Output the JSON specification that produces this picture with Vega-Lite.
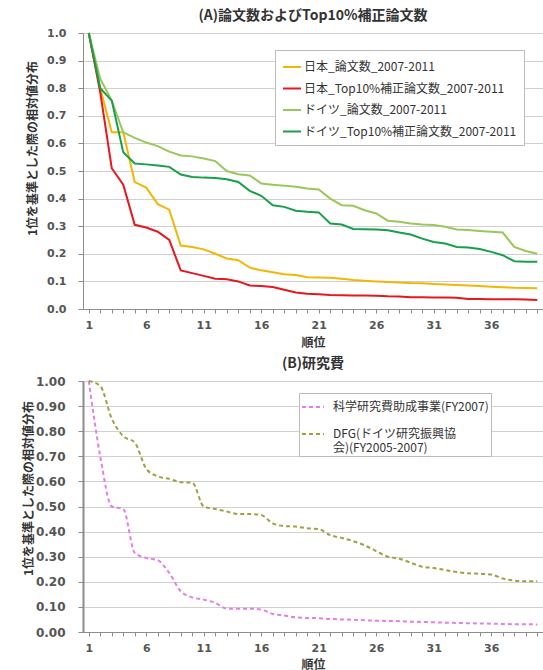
{
"$schema": "https://vega.github.io/schema/vega-lite/v6.json",
"padding": {"left": 21, "top": 9, "right": 2, "bottom": 0},
"spacing": 9,
"config": {
 "view": {"stroke": null},
 "font": "Noto Sans CJK JP",
 "axis": {"labelFont": "DejaVu Sans", "labelFontWeight": "bold", "labelColor": "#555555", "labelFontSize": 11, "titleFont": "Noto Sans CJK JP", "titleFontWeight": "bold", "titleColor": "#333333", "titleFontSize": 12, "gridColor": "#d0d0d0", "domainColor": "#8c8c8c", "tickColor": "#8c8c8c"},
 "title": {"font": "Noto Sans CJK JP", "fontSize": 14, "fontWeight": "bold", "color": "#333333", "offset": 4, "anchor": "middle"},
 "legend": {"labelFont": "Noto Sans CJK JP", "labelColor": "#333333", "strokeColor": "#bbbbbb", "fillColor": "white", "symbolType": "stroke", "symbolStrokeWidth": 2, "labelLimit": 400}
},
"datasets": {
"a": [
{"series":"日本_論文数_2007-2011","rank":1,"value":1.0},{"series":"日本_論文数_2007-2011","rank":2,"value":0.80},{"series":"日本_論文数_2007-2011","rank":3,"value":0.64},{"series":"日本_論文数_2007-2011","rank":4,"value":0.64},{"series":"日本_論文数_2007-2011","rank":5,"value":0.46},{"series":"日本_論文数_2007-2011","rank":6,"value":0.44},{"series":"日本_論文数_2007-2011","rank":7,"value":0.38},{"series":"日本_論文数_2007-2011","rank":8,"value":0.36},{"series":"日本_論文数_2007-2011","rank":9,"value":0.23},{"series":"日本_論文数_2007-2011","rank":10,"value":0.225},{"series":"日本_論文数_2007-2011","rank":11,"value":0.216},{"series":"日本_論文数_2007-2011","rank":12,"value":0.20},{"series":"日本_論文数_2007-2011","rank":13,"value":0.183},{"series":"日本_論文数_2007-2011","rank":14,"value":0.177},{"series":"日本_論文数_2007-2011","rank":15,"value":0.15},{"series":"日本_論文数_2007-2011","rank":16,"value":0.14},{"series":"日本_論文数_2007-2011","rank":17,"value":0.133},{"series":"日本_論文数_2007-2011","rank":18,"value":0.126},{"series":"日本_論文数_2007-2011","rank":19,"value":0.123},{"series":"日本_論文数_2007-2011","rank":20,"value":0.115},{"series":"日本_論文数_2007-2011","rank":21,"value":0.114},{"series":"日本_論文数_2007-2011","rank":22,"value":0.113},{"series":"日本_論文数_2007-2011","rank":23,"value":0.11},{"series":"日本_論文数_2007-2011","rank":24,"value":0.105},{"series":"日本_論文数_2007-2011","rank":25,"value":0.102},{"series":"日本_論文数_2007-2011","rank":26,"value":0.100},{"series":"日本_論文数_2007-2011","rank":27,"value":0.098},{"series":"日本_論文数_2007-2011","rank":28,"value":0.096},{"series":"日本_論文数_2007-2011","rank":29,"value":0.094},{"series":"日本_論文数_2007-2011","rank":30,"value":0.093},{"series":"日本_論文数_2007-2011","rank":31,"value":0.091},{"series":"日本_論文数_2007-2011","rank":32,"value":0.089},{"series":"日本_論文数_2007-2011","rank":33,"value":0.087},{"series":"日本_論文数_2007-2011","rank":34,"value":0.085},{"series":"日本_論文数_2007-2011","rank":35,"value":0.083},{"series":"日本_論文数_2007-2011","rank":36,"value":0.081},{"series":"日本_論文数_2007-2011","rank":37,"value":0.079},{"series":"日本_論文数_2007-2011","rank":38,"value":0.077},{"series":"日本_論文数_2007-2011","rank":39,"value":0.076},{"series":"日本_論文数_2007-2011","rank":40,"value":0.075},
{"series":"日本_Top10%補正論文数_2007-2011","rank":1,"value":1.0},{"series":"日本_Top10%補正論文数_2007-2011","rank":2,"value":0.785},{"series":"日本_Top10%補正論文数_2007-2011","rank":3,"value":0.51},{"series":"日本_Top10%補正論文数_2007-2011","rank":4,"value":0.45},{"series":"日本_Top10%補正論文数_2007-2011","rank":5,"value":0.305},{"series":"日本_Top10%補正論文数_2007-2011","rank":6,"value":0.295},{"series":"日本_Top10%補正論文数_2007-2011","rank":7,"value":0.28},{"series":"日本_Top10%補正論文数_2007-2011","rank":8,"value":0.25},{"series":"日本_Top10%補正論文数_2007-2011","rank":9,"value":0.14},{"series":"日本_Top10%補正論文数_2007-2011","rank":10,"value":0.13},{"series":"日本_Top10%補正論文数_2007-2011","rank":11,"value":0.12},{"series":"日本_Top10%補正論文数_2007-2011","rank":12,"value":0.11},{"series":"日本_Top10%補正論文数_2007-2011","rank":13,"value":0.108},{"series":"日本_Top10%補正論文数_2007-2011","rank":14,"value":0.10},{"series":"日本_Top10%補正論文数_2007-2011","rank":15,"value":0.085},{"series":"日本_Top10%補正論文数_2007-2011","rank":16,"value":0.083},{"series":"日本_Top10%補正論文数_2007-2011","rank":17,"value":0.08},{"series":"日本_Top10%補正論文数_2007-2011","rank":18,"value":0.07},{"series":"日本_Top10%補正論文数_2007-2011","rank":19,"value":0.06},{"series":"日本_Top10%補正論文数_2007-2011","rank":20,"value":0.055},{"series":"日本_Top10%補正論文数_2007-2011","rank":21,"value":0.053},{"series":"日本_Top10%補正論文数_2007-2011","rank":22,"value":0.051},{"series":"日本_Top10%補正論文数_2007-2011","rank":23,"value":0.05},{"series":"日本_Top10%補正論文数_2007-2011","rank":24,"value":0.049},{"series":"日本_Top10%補正論文数_2007-2011","rank":25,"value":0.049},{"series":"日本_Top10%補正論文数_2007-2011","rank":26,"value":0.048},{"series":"日本_Top10%補正論文数_2007-2011","rank":27,"value":0.046},{"series":"日本_Top10%補正論文数_2007-2011","rank":28,"value":0.045},{"series":"日本_Top10%補正論文数_2007-2011","rank":29,"value":0.043},{"series":"日本_Top10%補正論文数_2007-2011","rank":30,"value":0.043},{"series":"日本_Top10%補正論文数_2007-2011","rank":31,"value":0.042},{"series":"日本_Top10%補正論文数_2007-2011","rank":32,"value":0.042},{"series":"日本_Top10%補正論文数_2007-2011","rank":33,"value":0.041},{"series":"日本_Top10%補正論文数_2007-2011","rank":34,"value":0.036},{"series":"日本_Top10%補正論文数_2007-2011","rank":35,"value":0.036},{"series":"日本_Top10%補正論文数_2007-2011","rank":36,"value":0.035},{"series":"日本_Top10%補正論文数_2007-2011","rank":37,"value":0.035},{"series":"日本_Top10%補正論文数_2007-2011","rank":38,"value":0.035},{"series":"日本_Top10%補正論文数_2007-2011","rank":39,"value":0.034},{"series":"日本_Top10%補正論文数_2007-2011","rank":40,"value":0.033},
{"series":"ドイツ_論文数_2007-2011","rank":1,"value":1.0},{"series":"ドイツ_論文数_2007-2011","rank":2,"value":0.834},{"series":"ドイツ_論文数_2007-2011","rank":3,"value":0.755},{"series":"ドイツ_論文数_2007-2011","rank":4,"value":0.64},{"series":"ドイツ_論文数_2007-2011","rank":5,"value":0.62},{"series":"ドイツ_論文数_2007-2011","rank":6,"value":0.603},{"series":"ドイツ_論文数_2007-2011","rank":7,"value":0.59},{"series":"ドイツ_論文数_2007-2011","rank":8,"value":0.57},{"series":"ドイツ_論文数_2007-2011","rank":9,"value":0.556},{"series":"ドイツ_論文数_2007-2011","rank":10,"value":0.553},{"series":"ドイツ_論文数_2007-2011","rank":11,"value":0.545},{"series":"ドイツ_論文数_2007-2011","rank":12,"value":0.536},{"series":"ドイツ_論文数_2007-2011","rank":13,"value":0.50},{"series":"ドイツ_論文数_2007-2011","rank":14,"value":0.488},{"series":"ドイツ_論文数_2007-2011","rank":15,"value":0.484},{"series":"ドイツ_論文数_2007-2011","rank":16,"value":0.455},{"series":"ドイツ_論文数_2007-2011","rank":17,"value":0.45},{"series":"ドイツ_論文数_2007-2011","rank":18,"value":0.447},{"series":"ドイツ_論文数_2007-2011","rank":19,"value":0.443},{"series":"ドイツ_論文数_2007-2011","rank":20,"value":0.437},{"series":"ドイツ_論文数_2007-2011","rank":21,"value":0.433},{"series":"ドイツ_論文数_2007-2011","rank":22,"value":0.40},{"series":"ドイツ_論文数_2007-2011","rank":23,"value":0.376},{"series":"ドイツ_論文数_2007-2011","rank":24,"value":0.374},{"series":"ドイツ_論文数_2007-2011","rank":25,"value":0.358},{"series":"ドイツ_論文数_2007-2011","rank":26,"value":0.346},{"series":"ドイツ_論文数_2007-2011","rank":27,"value":0.32},{"series":"ドイツ_論文数_2007-2011","rank":28,"value":0.316},{"series":"ドイツ_論文数_2007-2011","rank":29,"value":0.31},{"series":"ドイツ_論文数_2007-2011","rank":30,"value":0.306},{"series":"ドイツ_論文数_2007-2011","rank":31,"value":0.304},{"series":"ドイツ_論文数_2007-2011","rank":32,"value":0.298},{"series":"ドイツ_論文数_2007-2011","rank":33,"value":0.288},{"series":"ドイツ_論文数_2007-2011","rank":34,"value":0.286},{"series":"ドイツ_論文数_2007-2011","rank":35,"value":0.283},{"series":"ドイツ_論文数_2007-2011","rank":36,"value":0.28},{"series":"ドイツ_論文数_2007-2011","rank":37,"value":0.277},{"series":"ドイツ_論文数_2007-2011","rank":38,"value":0.225},{"series":"ドイツ_論文数_2007-2011","rank":39,"value":0.21},{"series":"ドイツ_論文数_2007-2011","rank":40,"value":0.20},
{"series":"ドイツ_Top10%補正論文数_2007-2011","rank":1,"value":1.0},{"series":"ドイツ_Top10%補正論文数_2007-2011","rank":2,"value":0.80},{"series":"ドイツ_Top10%補正論文数_2007-2011","rank":3,"value":0.755},{"series":"ドイツ_Top10%補正論文数_2007-2011","rank":4,"value":0.568},{"series":"ドイツ_Top10%補正論文数_2007-2011","rank":5,"value":0.527},{"series":"ドイツ_Top10%補正論文数_2007-2011","rank":6,"value":0.524},{"series":"ドイツ_Top10%補正論文数_2007-2011","rank":7,"value":0.52},{"series":"ドイツ_Top10%補正論文数_2007-2011","rank":8,"value":0.515},{"series":"ドイツ_Top10%補正論文数_2007-2011","rank":9,"value":0.487},{"series":"ドイツ_Top10%補正論文数_2007-2011","rank":10,"value":0.478},{"series":"ドイツ_Top10%補正論文数_2007-2011","rank":11,"value":0.476},{"series":"ドイツ_Top10%補正論文数_2007-2011","rank":12,"value":0.475},{"series":"ドイツ_Top10%補正論文数_2007-2011","rank":13,"value":0.47},{"series":"ドイツ_Top10%補正論文数_2007-2011","rank":14,"value":0.46},{"series":"ドイツ_Top10%補正論文数_2007-2011","rank":15,"value":0.428},{"series":"ドイツ_Top10%補正論文数_2007-2011","rank":16,"value":0.41},{"series":"ドイツ_Top10%補正論文数_2007-2011","rank":17,"value":0.376},{"series":"ドイツ_Top10%補正論文数_2007-2011","rank":18,"value":0.37},{"series":"ドイツ_Top10%補正論文数_2007-2011","rank":19,"value":0.356},{"series":"ドイツ_Top10%補正論文数_2007-2011","rank":20,"value":0.352},{"series":"ドイツ_Top10%補正論文数_2007-2011","rank":21,"value":0.35},{"series":"ドイツ_Top10%補正論文数_2007-2011","rank":22,"value":0.31},{"series":"ドイツ_Top10%補正論文数_2007-2011","rank":23,"value":0.306},{"series":"ドイツ_Top10%補正論文数_2007-2011","rank":24,"value":0.29},{"series":"ドイツ_Top10%補正論文数_2007-2011","rank":25,"value":0.289},{"series":"ドイツ_Top10%補正論文数_2007-2011","rank":26,"value":0.288},{"series":"ドイツ_Top10%補正論文数_2007-2011","rank":27,"value":0.285},{"series":"ドイツ_Top10%補正論文数_2007-2011","rank":28,"value":0.277},{"series":"ドイツ_Top10%補正論文数_2007-2011","rank":29,"value":0.27},{"series":"ドイツ_Top10%補正論文数_2007-2011","rank":30,"value":0.255},{"series":"ドイツ_Top10%補正論文数_2007-2011","rank":31,"value":0.243},{"series":"ドイツ_Top10%補正論文数_2007-2011","rank":32,"value":0.237},{"series":"ドイツ_Top10%補正論文数_2007-2011","rank":33,"value":0.225},{"series":"ドイツ_Top10%補正論文数_2007-2011","rank":34,"value":0.223},{"series":"ドイツ_Top10%補正論文数_2007-2011","rank":35,"value":0.217},{"series":"ドイツ_Top10%補正論文数_2007-2011","rank":36,"value":0.207},{"series":"ドイツ_Top10%補正論文数_2007-2011","rank":37,"value":0.195},{"series":"ドイツ_Top10%補正論文数_2007-2011","rank":38,"value":0.173},{"series":"ドイツ_Top10%補正論文数_2007-2011","rank":39,"value":0.171},{"series":"ドイツ_Top10%補正論文数_2007-2011","rank":40,"value":0.171}
],
"b": [
{"series":"科学研究費助成事業(FY2007)","rank":1,"value":1.0},{"series":"科学研究費助成事業(FY2007)","rank":2,"value":0.70},{"series":"科学研究費助成事業(FY2007)","rank":3,"value":0.50},{"series":"科学研究費助成事業(FY2007)","rank":4,"value":0.49},{"series":"科学研究費助成事業(FY2007)","rank":5,"value":0.315},{"series":"科学研究費助成事業(FY2007)","rank":6,"value":0.295},{"series":"科学研究費助成事業(FY2007)","rank":7,"value":0.286},{"series":"科学研究費助成事業(FY2007)","rank":8,"value":0.235},{"series":"科学研究費助成事業(FY2007)","rank":9,"value":0.162},{"series":"科学研究費助成事業(FY2007)","rank":10,"value":0.138},{"series":"科学研究費助成事業(FY2007)","rank":11,"value":0.129},{"series":"科学研究費助成事業(FY2007)","rank":12,"value":0.116},{"series":"科学研究費助成事業(FY2007)","rank":13,"value":0.093},{"series":"科学研究費助成事業(FY2007)","rank":14,"value":0.093},{"series":"科学研究費助成事業(FY2007)","rank":15,"value":0.093},{"series":"科学研究費助成事業(FY2007)","rank":16,"value":0.089},{"series":"科学研究費助成事業(FY2007)","rank":17,"value":0.072},{"series":"科学研究費助成事業(FY2007)","rank":18,"value":0.066},{"series":"科学研究費助成事業(FY2007)","rank":19,"value":0.058},{"series":"科学研究費助成事業(FY2007)","rank":20,"value":0.056},{"series":"科学研究費助成事業(FY2007)","rank":21,"value":0.055},{"series":"科学研究費助成事業(FY2007)","rank":22,"value":0.052},{"series":"科学研究費助成事業(FY2007)","rank":23,"value":0.05},{"series":"科学研究費助成事業(FY2007)","rank":24,"value":0.049},{"series":"科学研究費助成事業(FY2007)","rank":25,"value":0.047},{"series":"科学研究費助成事業(FY2007)","rank":26,"value":0.045},{"series":"科学研究費助成事業(FY2007)","rank":27,"value":0.044},{"series":"科学研究費助成事業(FY2007)","rank":28,"value":0.043},{"series":"科学研究費助成事業(FY2007)","rank":29,"value":0.041},{"series":"科学研究費助成事業(FY2007)","rank":30,"value":0.04},{"series":"科学研究費助成事業(FY2007)","rank":31,"value":0.039},{"series":"科学研究費助成事業(FY2007)","rank":32,"value":0.037},{"series":"科学研究費助成事業(FY2007)","rank":33,"value":0.036},{"series":"科学研究費助成事業(FY2007)","rank":34,"value":0.035},{"series":"科学研究費助成事業(FY2007)","rank":35,"value":0.034},{"series":"科学研究費助成事業(FY2007)","rank":36,"value":0.033},{"series":"科学研究費助成事業(FY2007)","rank":37,"value":0.032},{"series":"科学研究費助成事業(FY2007)","rank":38,"value":0.031},{"series":"科学研究費助成事業(FY2007)","rank":39,"value":0.031},{"series":"科学研究費助成事業(FY2007)","rank":40,"value":0.03},
{"series":"DFG(ドイツ研究振興協会)(FY2005-2007)","rank":1,"value":1.0},{"series":"DFG(ドイツ研究振興協会)(FY2005-2007)","rank":2,"value":0.98},{"series":"DFG(ドイツ研究振興協会)(FY2005-2007)","rank":3,"value":0.85},{"series":"DFG(ドイツ研究振興協会)(FY2005-2007)","rank":4,"value":0.78},{"series":"DFG(ドイツ研究振興協会)(FY2005-2007)","rank":5,"value":0.755},{"series":"DFG(ドイツ研究振興協会)(FY2005-2007)","rank":6,"value":0.65},{"series":"DFG(ドイツ研究振興協会)(FY2005-2007)","rank":7,"value":0.62},{"series":"DFG(ドイツ研究振興協会)(FY2005-2007)","rank":8,"value":0.61},{"series":"DFG(ドイツ研究振興協会)(FY2005-2007)","rank":9,"value":0.597},{"series":"DFG(ドイツ研究振興協会)(FY2005-2007)","rank":10,"value":0.595},{"series":"DFG(ドイツ研究振興協会)(FY2005-2007)","rank":11,"value":0.50},{"series":"DFG(ドイツ研究振興協会)(FY2005-2007)","rank":12,"value":0.49},{"series":"DFG(ドイツ研究振興協会)(FY2005-2007)","rank":13,"value":0.48},{"series":"DFG(ドイツ研究振興協会)(FY2005-2007)","rank":14,"value":0.47},{"series":"DFG(ドイツ研究振興協会)(FY2005-2007)","rank":15,"value":0.47},{"series":"DFG(ドイツ研究振興協会)(FY2005-2007)","rank":16,"value":0.466},{"series":"DFG(ドイツ研究振興協会)(FY2005-2007)","rank":17,"value":0.433},{"series":"DFG(ドイツ研究振興協会)(FY2005-2007)","rank":18,"value":0.422},{"series":"DFG(ドイツ研究振興協会)(FY2005-2007)","rank":19,"value":0.42},{"series":"DFG(ドイツ研究振興協会)(FY2005-2007)","rank":20,"value":0.413},{"series":"DFG(ドイツ研究振興協会)(FY2005-2007)","rank":21,"value":0.41},{"series":"DFG(ドイツ研究振興協会)(FY2005-2007)","rank":22,"value":0.386},{"series":"DFG(ドイツ研究振興協会)(FY2005-2007)","rank":23,"value":0.375},{"series":"DFG(ドイツ研究振興協会)(FY2005-2007)","rank":24,"value":0.362},{"series":"DFG(ドイツ研究振興協会)(FY2005-2007)","rank":25,"value":0.345},{"series":"DFG(ドイツ研究振興協会)(FY2005-2007)","rank":26,"value":0.322},{"series":"DFG(ドイツ研究振興協会)(FY2005-2007)","rank":27,"value":0.30},{"series":"DFG(ドイツ研究振興協会)(FY2005-2007)","rank":28,"value":0.292},{"series":"DFG(ドイツ研究振興協会)(FY2005-2007)","rank":29,"value":0.276},{"series":"DFG(ドイツ研究振興協会)(FY2005-2007)","rank":30,"value":0.26},{"series":"DFG(ドイツ研究振興協会)(FY2005-2007)","rank":31,"value":0.255},{"series":"DFG(ドイツ研究振興協会)(FY2005-2007)","rank":32,"value":0.247},{"series":"DFG(ドイツ研究振興協会)(FY2005-2007)","rank":33,"value":0.239},{"series":"DFG(ドイツ研究振興協会)(FY2005-2007)","rank":34,"value":0.234},{"series":"DFG(ドイツ研究振興協会)(FY2005-2007)","rank":35,"value":0.232},{"series":"DFG(ドイツ研究振興協会)(FY2005-2007)","rank":36,"value":0.229},{"series":"DFG(ドイツ研究振興協会)(FY2005-2007)","rank":37,"value":0.213},{"series":"DFG(ドイツ研究振興協会)(FY2005-2007)","rank":38,"value":0.205},{"series":"DFG(ドイツ研究振興協会)(FY2005-2007)","rank":39,"value":0.202},{"series":"DFG(ドイツ研究振興協会)(FY2005-2007)","rank":40,"value":0.202}
]
},
"vconcat": [
{
 "title": {"text": "(A)論文数およびTop10%補正論文数"},
 "width": 460, "height": 276,
 "data": {"name": "a"},
 "mark": {"type": "line", "strokeWidth": 2},
 "encoding": {
  "x": {"field": "rank", "type": "quantitative", "scale": {"domain": [0.5, 40.5], "nice": false, "zero": false},
   "axis": {"title": "順位", "values": [1,2,3,4,5,6,7,8,9,10,11,12,13,14,15,16,17,18,19,20,21,22,23,24,25,26,27,28,29,30,31,32,33,34,35,36,37,38,39,40], "labelExpr": "(datum.value - 1) % 5 == 0 ? datum.label : ''", "labelOverlap": false, "labelFlush": false, "grid": false, "tickSize": 4, "labelPadding": 6, "titlePadding": 7}},
  "y": {"field": "value", "type": "quantitative", "scale": {"domain": [0, 1], "nice": false},
   "axis": {"title": "1位を基準とした際の相対値分布", "values": [0,0.1,0.2,0.3,0.4,0.5,0.6,0.7,0.8,0.9,1.0], "format": ".1f", "tickSize": 5, "labelPadding": 12, "titleX": -44, "titleY": 115}},
  "color": {"field": "series", "type": "nominal", "sort": null,
   "scale": {"domain": ["日本_論文数_2007-2011", "日本_Top10%補正論文数_2007-2011", "ドイツ_論文数_2007-2011", "ドイツ_Top10%補正論文数_2007-2011"], "range": ["#f2b705", "#e8161e", "#98c85a", "#17a04a"]},
   "legend": {"title": null, "orient": "none", "legendX": 192, "legendY": 17, "symbolSize": 324, "labelFontSize": 12, "padding": 7, "rowPadding": 5.5, "labelOffset": 2}}
 }
},
{
 "title": {"text": "(B)研究費"},
 "width": 460, "height": 251,
 "data": {"name": "b"},
 "mark": {"type": "line", "strokeWidth": 2, "strokeDash": [4, 3], "interpolate": "monotone"},
 "encoding": {
  "x": {"field": "rank", "type": "quantitative", "scale": {"domain": [0.5, 40.5], "nice": false, "zero": false},
   "axis": {"title": "順位", "values": [1,2,3,4,5,6,7,8,9,10,11,12,13,14,15,16,17,18,19,20,21,22,23,24,25,26,27,28,29,30,31,32,33,34,35,36,37,38,39,40], "labelExpr": "(datum.value - 1) % 5 == 0 ? datum.label : ''", "labelOverlap": false, "labelFlush": false, "grid": false, "tickSize": 4, "labelPadding": 6, "titlePadding": 6}},
  "y": {"field": "value", "type": "quantitative", "scale": {"domain": [0, 1], "nice": false},
   "axis": {"title": "1位を基準とした際の相対値分布", "values": [0,0.1,0.2,0.3,0.4,0.5,0.6,0.7,0.8,0.9,1.0], "format": ".2f", "tickSize": 5, "labelPadding": 13, "labelFontSize": 12, "domainWidth": 2, "titleX": -48, "titleY": 107}},
  "color": {"field": "series", "type": "nominal", "sort": null,
   "scale": {"domain": ["科学研究費助成事業(FY2007)", "DFG(ドイツ研究振興協会)(FY2005-2007)"], "range": ["#e57ee5", "#a0a040"]},
   "legend": {"title": null, "orient": "none", "legendX": 216, "legendY": 12, "symbolSize": 484, "symbolDash": [4, 3], "labelFontSize": 12, "padding": 2, "rowPadding": 9, "labelOffset": 8, "gridAlign": "none",
    "labelExpr": "datum.label == 'DFG(ドイツ研究振興協会)(FY2005-2007)' ? ['DFG(ドイツ研究振興協', '会)(FY2005-2007)'] : datum.label"}}
 }
}
],
"resolve": {"scale": {"color": "independent"}}
}
